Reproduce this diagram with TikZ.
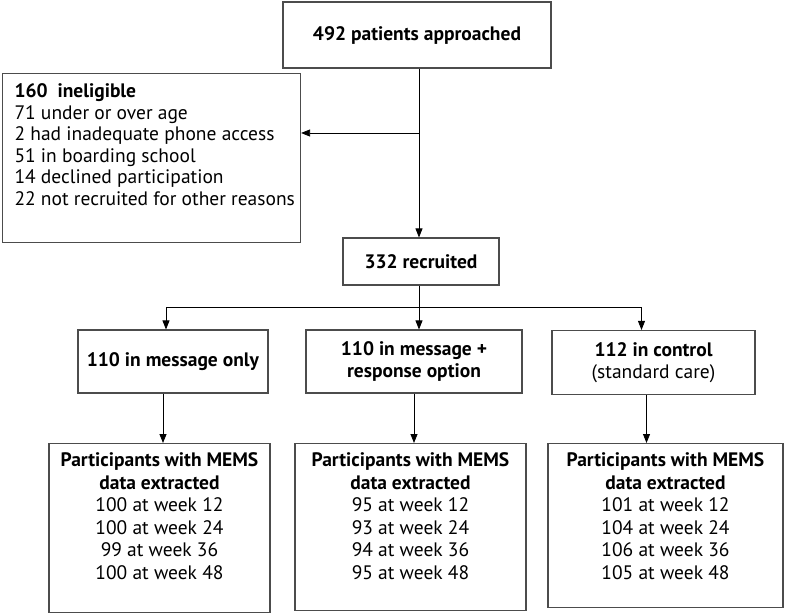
\documentclass[tikz,border=0pt]{standalone}
\usepackage{fontspec}
\setmainfont{PT Sans}
\usepackage{tikz}
\usetikzlibrary{arrows.meta,positioning}

\begin{document}
\begin{tikzpicture}[x=1pt,y=-1pt,
    box/.style={draw=black!70,line width=1.1pt,inner sep=0pt},
    arr/.style={-{Triangle[length=9pt,width=7pt]},line width=0.8pt},
    lin/.style={line width=0.8pt},
    txt/.style={font=\fontsize{19.5}{22.6}\selectfont,align=center}]
    \useasboundingbox (0,0) rectangle (787,615);
    % top
    \node[box,txt,minimum width=268,minimum height=66] (appr) at (417,35) {\textbf{492 patients approached}};
    \node[box,minimum width=298,minimum height=169,anchor=north west] (inel) at (2,73) {};
    \node[txt,align=left,anchor=north west,font=\fontsize{19.5}{21.6}\selectfont] (ineltxt) at ([shift={(9,7)}]inel.north west)
        {\textbf{160\ \ ineligible}\\71 under or over age\\2 had inadequate phone access\\51 in boarding school\\14 declined participation\\22 not recruited for other reasons};
    \node[box,txt,minimum width=156,minimum height=47] (recr) at (421,261.5) {\textbf{332 recruited}};
    % arms
    \node[box,txt,minimum width=190,minimum height=63] (msg) at (173,361.5) {\textbf{110 in message only}};
    \node[box,txt,minimum width=216,minimum height=63] (resp) at (414,361.5) {\textbf{110 in message +}\\\textbf{response option}};
    \node[box,txt,minimum width=203,minimum height=64] (ctrl) at (653.5,362.5) {\textbf{112 in control}\\(standard care)};
    % data boxes
    \node[box,minimum width=221,minimum height=169,anchor=north] (dmsg) at (159.5,443) {};
    \node[box,minimum width=231,minimum height=167,anchor=north] (dresp) at (410.5,443) {};
    \node[box,minimum width=235,minimum height=164,anchor=north] (dctrl) at (665.5,443) {};
    \node[txt,anchor=north] (tmsg) at ([yshift=-6]dmsg.north)
        {\textbf{Participants with MEMS}\\\textbf{data extracted}\\100 at week 12\\100 at week 24\\99 at week 36\\100 at week 48};
    \node[txt,anchor=north] (tresp) at ([yshift=-6]dresp.north)
        {\textbf{Participants with MEMS}\\\textbf{data extracted}\\95 at week 12\\93 at week 24\\94 at week 36\\95 at week 48};
    \node[txt,anchor=north] (tctrl) at ([yshift=-6]dctrl.north)
        {\textbf{Participants with MEMS}\\\textbf{data extracted}\\101 at week 12\\104 at week 24\\106 at week 36\\105 at week 48};
    % connectors
    \coordinate (ex) at (419,133);
    \coordinate (fork) at (419,307);
    \draw[arr] (appr.south -| ex) -- (recr.north -| ex);
    \draw[arr] (ex) -- (ex -| inel.east);
    \draw[lin] (recr.south -| fork) -- (fork);
    \draw[arr] (fork) -| ([xshift=-7]msg.north);
    \draw[arr] (fork) -- (fork |- resp.north);
    \draw[arr] (fork) -| ([xshift=-12]ctrl.north);
    \draw[arr] ([xshift=-10]msg.south) -- ([xshift=-10]msg.south |- dmsg.north);
    \draw[arr] (resp.south) -- (resp.south |- dresp.north);
    \draw[arr] ([xshift=-7]ctrl.south) -- ([xshift=-7]ctrl.south |- dctrl.north);
\end{tikzpicture}
\end{document}
